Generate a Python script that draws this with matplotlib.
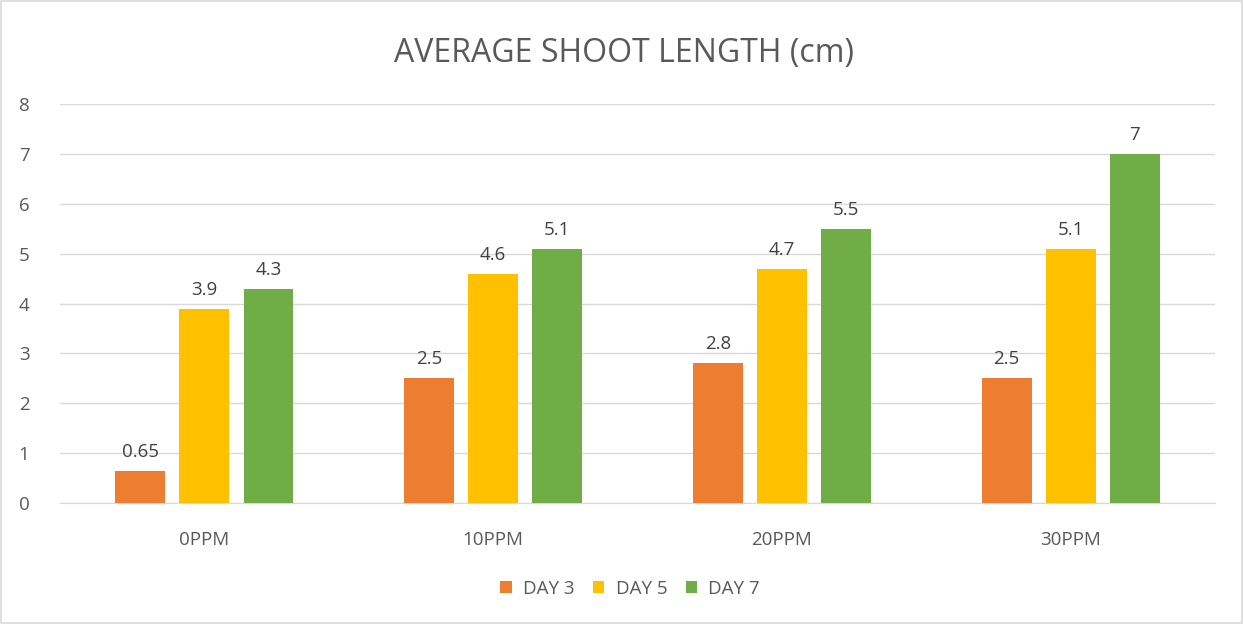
import matplotlib
matplotlib.use("Agg")
import matplotlib.pyplot as plt
import numpy as np
from matplotlib.patches import Rectangle

categories = ["0PPM", "10PPM", "20PPM", "30PPM"]
series_names = ["DAY 3", "DAY 5", "DAY 7"]
day3 = [0.65, 2.5, 2.8, 2.5]
day5 = [3.9, 4.6, 4.7, 5.1]
day7 = [4.3, 5.1, 5.5, 7]
labels3 = ["0.65", "2.5", "2.8", "2.5"]
labels5 = ["3.9", "4.6", "4.7", "5.1"]
labels7 = ["4.3", "5.1", "5.5", "7"]
colors = ["#ED7D31", "#FFC000", "#70AD47"]

plt.rcParams['font.family'] = ['Open Sans', 'DejaVu Sans']
txt = "#595959"

fig = plt.figure(figsize=(12.43, 6.24), dpi=100)
fig.patches.append(Rectangle((0.001, 0.001), 0.998, 0.997, transform=fig.transFigure,
                             fill=False, edgecolor="#D9D9D9", linewidth=1.2))
ax = fig.add_axes([0.0483, 0.194, 0.9292, 0.639])

x = np.arange(len(categories))
w = 0.173
step = 0.222
for i, (vals, labs) in enumerate(zip([day3, day5, day7], [labels3, labels5, labels7])):
    bars = ax.bar(x + (i - 1) * step, vals, w, color=colors[i], label=series_names[i], zorder=3)
    for b, l in zip(bars, labs):
        ax.text(b.get_x() + b.get_width() / 2, b.get_height() + 0.2, l,
                ha="center", va="bottom", fontsize=13.5, color="#404040")

ax.set_xlim(-0.5, 3.5)
ax.set_ylim(0, 8)
ax.set_yticks(range(0, 9))
ax.set_xticks(x)
ax.set_xticklabels(categories)
ax.tick_params(axis="both", length=0, labelsize=13.5, colors=txt)
ax.tick_params(axis="x", pad=20)
ax.tick_params(axis="y", pad=22)
ax.grid(axis="y", color="#D9D9D9", linewidth=1, zorder=0)
for s in ["top", "right", "left"]:
    ax.spines[s].set_visible(False)
ax.spines["bottom"].set_color("#D9D9D9")
ax.set_axisbelow(True)

fig.text(0.502, 0.915, "AVERAGE SHOOT LENGTH (cm)", ha="center", va="center",
         fontsize=23, color=txt)

leg = fig.legend(loc="center", bbox_to_anchor=(0.507, 0.056), ncol=3, frameon=False,
                 fontsize=13.5, handlelength=0.6, handleheight=0.6, columnspacing=1.0,
                 handletextpad=0.6)
for t in leg.get_texts():
    t.set_color(txt)

fig.savefig("out.png", dpi=100)
